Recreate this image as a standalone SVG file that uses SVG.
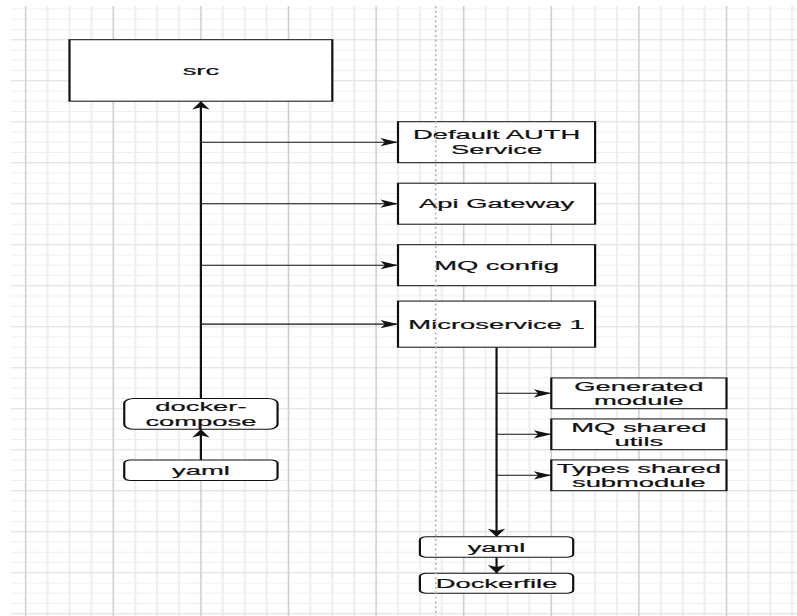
<svg xmlns="http://www.w3.org/2000/svg" width="797" height="616" viewBox="0 0 797 616">
  <defs>
    <!-- classic filled arrowhead, drawn in the local user space of the stretched layer -->
    <marker id="arrow" markerUnits="userSpaceOnUse" markerWidth="10" markerHeight="10" refX="0" refY="0" orient="auto" overflow="visible">
      <path d="M0 0L-8 -4L-6 0L-8 4Z" fill="#111"/>
    </marker>
    <style>
      .minor{fill:none;stroke:#efefef;stroke-width:1}
      .majorH{fill:none;stroke:#e2e2e2;stroke-width:1.1}
      .majorV{fill:none;stroke:#cdcdcd;stroke-width:0.55}
      .box{fill:#fff;stroke:#111;stroke-width:1}
      .edge{fill:none;stroke:#111;stroke-width:1;marker-end:url(#arrow)}
      .lbl{font-family:"Liberation Sans",Arial,Helvetica,sans-serif;font-size:12.5px;fill:#111;stroke:#111;stroke-width:0.2;text-anchor:middle}
    </style>
  </defs>

  <rect width="797" height="616" fill="#fff"/>

  <!-- drawing layer: 10-unit grid, stretched horizontally -->
  <g transform="matrix(2.19 0 0 1.025 25.7 39.7)">
    <g id="grid">
      <path class="minor" d="M0-33V563M10-33V563M20-33V563M30-33V563M40-33V563M50-33V563M60-33V563M70-33V563M80-33V563M90-33V563M100-33V563M110-33V563M120-33V563M130-33V563M140-33V563M150-33V563M160-33V563M170-33V563M180-33V563M190-33V563M200-33V563M210-33V563M220-33V563M230-33V563M240-33V563M250-33V563M260-33V563M270-33V563M280-33V563M290-33V563M300-33V563M310-33V563M320-33V563M330-33V563M340-33V563M350-33V563"/>
      <path class="minor" d="M-6.7-30H353M-6.7-20H353M-6.7-10H353M-6.7 0H353M-6.7 10H353M-6.7 20H353M-6.7 30H353M-6.7 40H353M-6.7 50H353M-6.7 60H353M-6.7 70H353M-6.7 80H353M-6.7 90H353M-6.7 100H353M-6.7 110H353M-6.7 120H353M-6.7 130H353M-6.7 140H353M-6.7 150H353M-6.7 160H353M-6.7 170H353M-6.7 180H353M-6.7 190H353M-6.7 200H353M-6.7 210H353M-6.7 220H353M-6.7 230H353M-6.7 240H353M-6.7 250H353M-6.7 260H353M-6.7 270H353M-6.7 280H353M-6.7 290H353M-6.7 300H353M-6.7 310H353M-6.7 320H353M-6.7 330H353M-6.7 340H353M-6.7 350H353M-6.7 360H353M-6.7 370H353M-6.7 380H353M-6.7 390H353M-6.7 400H353M-6.7 410H353M-6.7 420H353M-6.7 430H353M-6.7 440H353M-6.7 450H353M-6.7 460H353M-6.7 470H353M-6.7 480H353M-6.7 490H353M-6.7 500H353M-6.7 510H353M-6.7 520H353M-6.7 530H353M-6.7 540H353M-6.7 550H353M-6.7 560H353"/>
      <path class="majorH" d="M-6.7 0H353M-6.7 40H353M-6.7 80H353M-6.7 120H353M-6.7 160H353M-6.7 200H353M-6.7 240H353M-6.7 280H353M-6.7 320H353M-6.7 360H353M-6.7 400H353M-6.7 440H353M-6.7 480H353M-6.7 520H353M-6.7 560H353"/>
      <path class="majorV" d="M0-33V563M40-33V563M80-33V563M120-33V563M160-33V563M200-33V563M240-33V563M280-33V563M320-33V563"/>
    </g>

    <g id="connectors">
      <path class="edge" d="M80 350V60"/>
      <path class="edge" d="M80 100H170"/>
      <path class="edge" d="M80 160H170"/>
      <path class="edge" d="M80 220H170"/>
      <path class="edge" d="M80 277.5H170"/>
      <path class="edge" d="M80 410V380"/>
      <path class="edge" d="M215 300V485"/>
      <path class="edge" d="M215 345H240"/>
      <path class="edge" d="M215 385H240"/>
      <path class="edge" d="M215 425H240"/>
      <path class="edge" d="M215 505V520.5"/>
    </g>

    <g id="src">
      <rect class="box" x="20" y="0" width="120" height="60"/>
      <text class="lbl" x="80" y="34.5">src</text>
    </g>
    <g id="auth-service">
      <rect class="box" x="170" y="80" width="90" height="40"/>
      <text class="lbl" x="215" y="97.3">Default AUTH</text>
      <text class="lbl" x="215" y="111.7">Service</text>
    </g>
    <g id="api-gateway">
      <rect class="box" x="170" y="140" width="90" height="40"/>
      <text class="lbl" x="215" y="164.5">Api Gateway</text>
    </g>
    <g id="mq-config">
      <rect class="box" x="170" y="200" width="90" height="40"/>
      <text class="lbl" x="215" y="224.5">MQ config</text>
    </g>
    <g id="microservice-1">
      <rect class="box" x="170" y="255" width="90" height="45"/>
      <text class="lbl" x="215" y="282">Microservice 1</text>
    </g>
    <g id="generated-module">
      <rect class="box" x="240" y="330" width="80" height="30"/>
      <text class="lbl" x="280" y="342.3">Generated</text>
      <text class="lbl" x="280" y="356.7">module</text>
    </g>
    <g id="mq-shared-utils">
      <rect class="box" x="240" y="370" width="80" height="30"/>
      <text class="lbl" x="280" y="382.3">MQ shared</text>
      <text class="lbl" x="280" y="396.7">utils</text>
    </g>
    <g id="types-shared-submodule">
      <rect class="box" x="240" y="410" width="80" height="30"/>
      <text class="lbl" x="280" y="422.3">Types shared</text>
      <text class="lbl" x="280" y="436.7">submodule</text>
    </g>
    <g id="service-yaml">
      <rect class="box" x="180" y="485" width="70" height="20" rx="3" ry="3"/>
      <text class="lbl" x="215" y="499.5">yaml</text>
    </g>
    <g id="dockerfile">
      <rect class="box" x="180" y="520.5" width="70" height="19.5" rx="3" ry="3"/>
      <text class="lbl" x="215" y="534.8">Dockerfile</text>
    </g>
    <g id="docker-compose">
      <rect class="box" x="45" y="350" width="70" height="30" rx="4.5" ry="4.5"/>
      <text class="lbl" x="80" y="362.3">docker-</text>
      <text class="lbl" x="80" y="376.7">compose</text>
    </g>
    <g id="compose-yaml">
      <rect class="box" x="45" y="410" width="70" height="20" rx="3" ry="3"/>
      <text class="lbl" x="80" y="424.5">yaml</text>
    </g>
  </g>

  <!-- page boundary -->
  <path d="M435.7 6V616" fill="none" stroke="#b5b5b5" stroke-width="1.6" stroke-dasharray="2.2 2.6"/>
</svg>
